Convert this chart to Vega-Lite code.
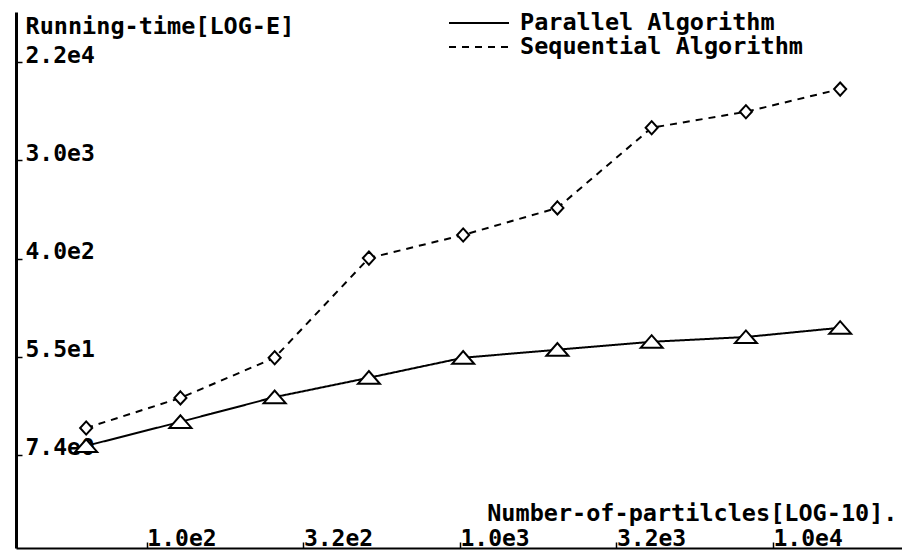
{
  "$schema": "https://vega.github.io/schema/vega-lite/v6.json",
  "width": 886,
  "height": 536,
  "autosize": {"type": "none"},
  "padding": {"left": 16, "top": 12, "right": 0, "bottom": 5},
  "background": "white",
  "config": {
    "view": {"stroke": null},
    "font": "DejaVu Sans Mono"
  },
  "data": {
    "values": [
      {"n": 64, "t": 8.9, "series": "Parallel Algorithm"},
      {"n": 128, "t": 14.5, "series": "Parallel Algorithm"},
      {"n": 256, "t": 24.0, "series": "Parallel Algorithm"},
      {"n": 512, "t": 35.6, "series": "Parallel Algorithm"},
      {"n": 1024, "t": 53.5, "series": "Parallel Algorithm"},
      {"n": 2048, "t": 63, "series": "Parallel Algorithm"},
      {"n": 4096, "t": 74, "series": "Parallel Algorithm"},
      {"n": 8192, "t": 81.6, "series": "Parallel Algorithm"},
      {"n": 16384, "t": 98.5, "series": "Parallel Algorithm"},
      {"n": 64, "t": 12.8, "series": "Sequential Algorithm"},
      {"n": 128, "t": 23.6, "series": "Sequential Algorithm"},
      {"n": 256, "t": 53.5, "series": "Sequential Algorithm"},
      {"n": 512, "t": 407, "series": "Sequential Algorithm"},
      {"n": 1024, "t": 651, "series": "Sequential Algorithm"},
      {"n": 2048, "t": 1130, "series": "Sequential Algorithm"},
      {"n": 4096, "t": 5780, "series": "Sequential Algorithm"},
      {"n": 8192, "t": 8000, "series": "Sequential Algorithm"},
      {"n": 16384, "t": 12700, "series": "Sequential Algorithm"}
    ]
  },
  "encoding": {
    "x": {
      "field": "n",
      "type": "quantitative",
      "scale": {"type": "log", "domain": [38.2, 25820], "nice": false},
      "axis": {
        "values": [100, 316.2278, 1000, 3162.278, 10000],
        "labelExpr": "replace(format(datum.value, '.1e'), '+', '')",
        "grid": false,
        "domainColor": "black",
        "domainWidth": 2,
        "tickColor": "black",
        "tickWidth": 1.5,
        "tickSize": -6,
        "labelPadding": 3,
        "labelAlign": "left",
        "labelBaseline": "alphabetic",
        "labelFlush": false,
        "labelOverlap": false,
        "labelFont": "DejaVu Sans Mono",
        "labelFontWeight": "bold",
        "labelFontSize": 23,
        "labelColor": "black",
        "title": "Number-of-partilcles[LOG-10].",
        "titleFont": "DejaVu Sans Mono",
        "titleFontWeight": "bold",
        "titleFontSize": 23.5,
        "titleColor": "black",
        "titleAlign": "right",
        "titleBaseline": "alphabetic",
        "titleX": 881,
        "titleY": -28
      }
    },
    "y": {
      "field": "t",
      "type": "quantitative",
      "scale": {"type": "log", "base": 2.718281828459045, "domain": [1.112, 61000], "nice": false},
      "axis": {
        "values": [7.389056, 54.59815, 403.4288, 2980.958, 22026.47],
        "labelExpr": "replace(format(datum.value, '.1e'), '+', '')",
        "grid": false,
        "domainColor": "black",
        "domainWidth": 3,
        "tickColor": "black",
        "tickWidth": 1.5,
        "tickSize": -6,
        "labelPadding": -3,
        "labelAlign": "left",
        "labelBaseline": "alphabetic",
        "labelOverlap": false,
        "labelFont": "DejaVu Sans Mono",
        "labelFontWeight": "bold",
        "labelFontSize": 23,
        "labelColor": "black",
        "title": "Running-time[LOG-E]",
        "titleFont": "DejaVu Sans Mono",
        "titleFontWeight": "bold",
        "titleFontSize": 23.5,
        "titleColor": "black",
        "titleAngle": 0,
        "titleAlign": "left",
        "titleBaseline": "alphabetic",
        "titleX": 9,
        "titleY": 21
      }
    }
  },
  "layer": [
    {
      "mark": {"type": "line", "color": "black", "strokeWidth": 2},
      "encoding": {
        "detail": {"field": "series"},
        "strokeDash": {
          "field": "series",
          "type": "nominal",
          "scale": {"range": [[1, 0], [7, 6]]},
          "legend": {
            "title": null,
            "orient": "none",
            "legendX": 432,
            "legendY": -1,
            "padding": 0,
            "rowPadding": 0,
            "clipHeight": 24,
            "labelOffset": 10,
            "labelLimit": 500,
            "symbolSize": 3600,
            "symbolStrokeWidth": 2,
            "symbolStrokeColor": "black",
            "labelFont": "DejaVu Sans Mono",
            "labelFontWeight": "bold",
            "labelFontSize": 23.5,
            "labelColor": "black"
          }
        }
      }
    },
    {
      "mark": {"type": "point", "filled": false, "fill": "white", "stroke": "black", "strokeWidth": 2, "opacity": 1, "size": 484},
      "encoding": {
        "shape": {
          "field": "series",
          "type": "nominal",
          "scale": {
            "domain": ["Parallel Algorithm", "Sequential Algorithm"],
            "range": ["M-1,0.55 L0,-0.6 L1,0.55 Z", "M0,-0.6 L0.55,0 L0,0.6 L-0.55,0 Z"]
          },
          "legend": null
        }
      }
    }
  ]
}
